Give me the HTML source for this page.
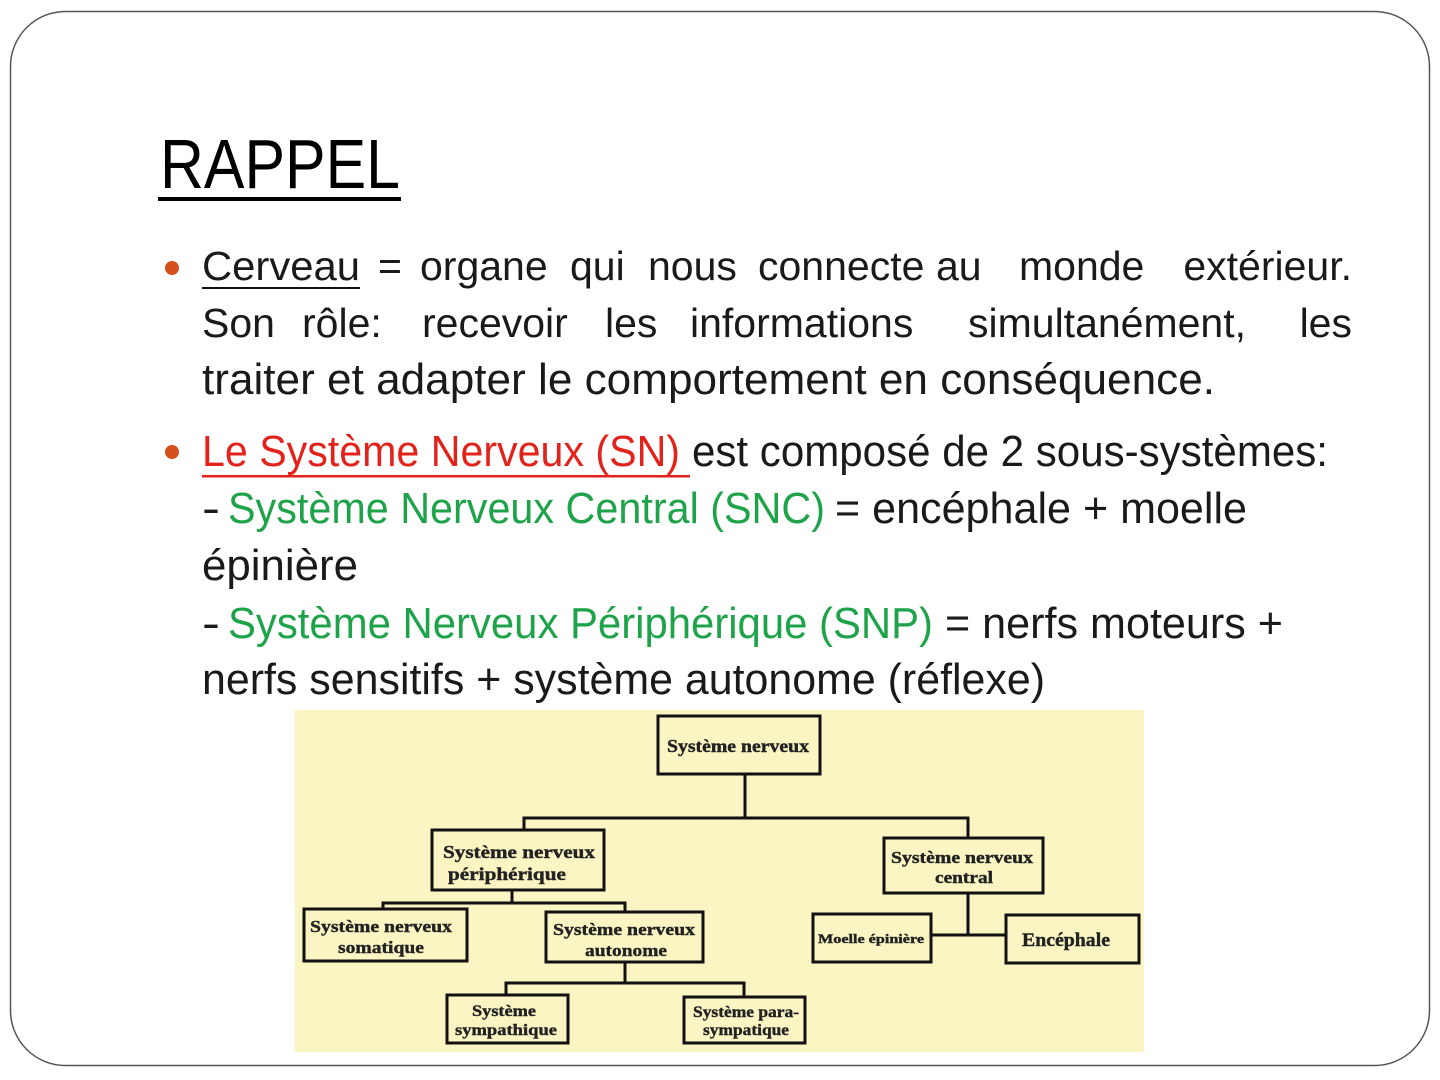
<!DOCTYPE html>
<html><head><meta charset="utf-8"><style>
html,body{margin:0;padding:0;background:#fff;}
svg{display:block;}
</style></head><body>
<svg width="1440" height="1080" viewBox="0 0 1440 1080" xmlns="http://www.w3.org/2000/svg">
<rect x="0" y="0" width="1440" height="1080" fill="#fff"/>
<rect x="10.5" y="11.5" width="1419" height="1054" rx="55" ry="55" fill="none" stroke="#555" stroke-width="1.5"/>
<g font-family="Liberation Sans, sans-serif">
<text x="160" y="188" font-size="70" textLength="240" lengthAdjust="spacingAndGlyphs" fill="#000">RAPPEL</text>
<rect x="158" y="197" width="243" height="4" fill="#000"/>
<circle cx="172" cy="268" r="7" fill="#d4501f"/>
<circle cx="172" cy="452" r="7" fill="#d4501f"/>
<g font-size="41" fill="#1a1a1a">
<text x="202" y="280" textLength="158" lengthAdjust="spacingAndGlyphs">Cerveau</text>
<text x="378" y="280">=</text>
<text x="420" y="280">organe</text>
<text x="570" y="280">qui</text>
<text x="648" y="280">nous</text>
<text x="758" y="280">connecte</text>
<text x="936" y="280">au</text>
<text x="1019" y="280">monde</text>
<text x="1352" y="280" text-anchor="end">extérieur.</text>
<rect x="202" y="287" width="158" height="2" fill="#111"/>
<text x="202" y="337">Son</text>
<text x="302" y="337">rôle:</text>
<text x="422" y="337">recevoir</text>
<text x="605" y="337">les</text>
<text x="690" y="337">informations</text>
<text x="968" y="337">simultanément,</text>
<text x="1352" y="337" text-anchor="end">les</text>
</g>
<g font-size="44" fill="#1a1a1a">
<text x="202" y="394" textLength="1013" lengthAdjust="spacingAndGlyphs">traiter et adapter le comportement en conséquence.</text>
<text x="202" y="466" textLength="478" lengthAdjust="spacingAndGlyphs" fill="#e3231b">Le Système Nerveux (SN)</text>
<rect x="202" y="475" width="488" height="2.5" fill="#e3231b"/>
<text x="692" y="466" textLength="636" lengthAdjust="spacingAndGlyphs">est composé de 2 sous-systèmes:</text>
<text x="202" y="523" textLength="18" lengthAdjust="spacingAndGlyphs">-</text>
<text x="228" y="523" textLength="597" lengthAdjust="spacingAndGlyphs" fill="#1fa34a">Système Nerveux Central (SNC)</text>
<text x="835" y="523" textLength="412" lengthAdjust="spacingAndGlyphs">= encéphale + moelle</text>
<text x="202" y="580" textLength="156" lengthAdjust="spacingAndGlyphs">épinière</text>
<text x="202" y="638" textLength="18" lengthAdjust="spacingAndGlyphs">-</text>
<text x="228" y="638" textLength="705" lengthAdjust="spacingAndGlyphs" fill="#1fa34a">Système Nerveux Périphérique (SNP)</text>
<text x="945" y="638" textLength="338" lengthAdjust="spacingAndGlyphs">= nerfs moteurs +</text>
<text x="202" y="694" textLength="843" lengthAdjust="spacingAndGlyphs">nerfs sensitifs + système autonome (réflexe)</text>
</g>
</g>
<rect x="295" y="710" width="849" height="342" fill="#faf5c2"/>
<g stroke="#111" stroke-width="3" fill="none">
<rect x="658" y="716" width="162" height="58"/>
<rect x="432" y="830" width="172" height="60"/>
<rect x="884" y="838" width="159" height="55"/>
<rect x="304" y="909" width="163" height="52"/>
<rect x="546" y="912" width="157" height="50"/>
<rect x="813" y="914" width="118" height="48"/>
<rect x="1006" y="915" width="133" height="48"/>
<rect x="447" y="995" width="121" height="48"/>
<rect x="684" y="997" width="121" height="46"/>
<path d="M745 774V818M524 830V818H968V838M512 890V903M383 909V903H625V912M625 962V983M506 995V983H744V997M968 893V935M931 935H1006"/>
</g>
<g font-family="Liberation Serif, serif" font-weight="bold" fill="#222" text-anchor="middle" stroke="#222" stroke-width="0.4">
<text x="738" y="752" font-size="18" textLength="142" lengthAdjust="spacingAndGlyphs">Système nerveux</text>
<text x="519" y="858" font-size="18" textLength="152" lengthAdjust="spacingAndGlyphs">Système nerveux</text>
<text x="507" y="880" font-size="18" textLength="118" lengthAdjust="spacingAndGlyphs">périphérique</text>
<text x="962" y="863" font-size="17" textLength="142" lengthAdjust="spacingAndGlyphs">Système nerveux</text>
<text x="964" y="883" font-size="17" textLength="58" lengthAdjust="spacingAndGlyphs">central</text>
<text x="381" y="932" font-size="17" textLength="142" lengthAdjust="spacingAndGlyphs">Système nerveux</text>
<text x="381" y="953" font-size="17" textLength="86" lengthAdjust="spacingAndGlyphs">somatique</text>
<text x="624" y="935" font-size="17" textLength="142" lengthAdjust="spacingAndGlyphs">Système nerveux</text>
<text x="626" y="956" font-size="17" textLength="82" lengthAdjust="spacingAndGlyphs">autonome</text>
<text x="871" y="943" font-size="13" textLength="106" lengthAdjust="spacingAndGlyphs">Moelle épinière</text>
<text x="1066" y="946" font-size="19" textLength="88" lengthAdjust="spacingAndGlyphs">Encéphale</text>
<text x="504" y="1016" font-size="16" textLength="64" lengthAdjust="spacingAndGlyphs">Système</text>
<text x="506" y="1035" font-size="16" textLength="102" lengthAdjust="spacingAndGlyphs">sympathique</text>
<text x="746" y="1017" font-size="16" textLength="106" lengthAdjust="spacingAndGlyphs">Système para-</text>
<text x="746" y="1035" font-size="16" textLength="86" lengthAdjust="spacingAndGlyphs">sympatique</text>
</g>
</svg>
</body></html>
